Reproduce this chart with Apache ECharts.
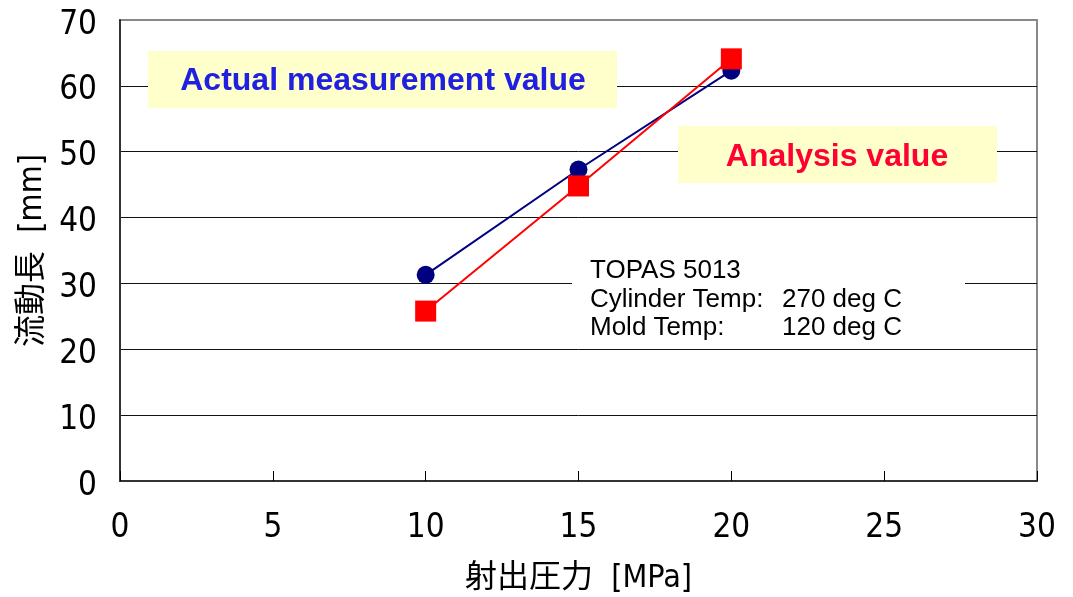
<!DOCTYPE html>
<html>
<head>
<meta charset="utf-8">
<script src="https://cdn.jsdelivr.net/npm/echarts@6/dist/echarts.min.js"></script>
<style>html,body{margin:0;padding:0;background:#fff}#c{width:1073px;height:597px}</style>
</head>
<body>
<div id="c"></div>
<script>
const pressure = [10, 15, 20];
const measured = [31.3, 47.3, 62.3];
const analysis = [25.8, 44.8, 64.1];
const xTicks = [0, 5, 10, 15, 20, 25, 30];
const yTicks = [0, 10, 20, 30, 40, 50, 60, 70];
const xName = '射出圧力  [MPa]';
const yName = '流動長  [mm]';
const labelMeasured = 'Actual measurement value';
const labelAnalysis = 'Analysis value';
const infoLines = [['TOPAS 5013', ''], ['Cylinder Temp:', '270 deg C'], ['Mold Temp:', '120 deg C']];

const narrow = "'Liberation Sans Narrow','DejaVu Sans Condensed','Noto Sans CJK JP',sans-serif";
const chart = echarts.init(document.getElementById('c'), null, {renderer: 'canvas'});

const info = [];
infoLines.forEach((l, i) => {
  info.push({type: 'text', left: 590, top: 258 + i * 28.5, z: 101,
    style: {text: l[0], fontSize: 26, fontFamily: 'Liberation Sans, Arial, sans-serif', fill: '#000'}});
  if (l[1]) info.push({type: 'text', left: 782, top: 258 + i * 28.5, z: 101,
    style: {text: l[1], fontSize: 26, fontFamily: 'Liberation Sans, Arial, sans-serif', fill: '#000'}});
});

chart.setOption({
  animation: false,
  grid: {left: 120, right: 36, top: 20, bottom: 116, show: true, borderColor: '#888', borderWidth: 2, backgroundColor: 'transparent', containLabel: false, outerBoundsMode: 'none'},
  xAxis: {
    type: 'value', min: xTicks[0], max: xTicks[xTicks.length - 1], interval: 5,
    name: xName, nameLocation: 'middle', nameGap: 82,
    nameTextStyle: {fontSize: 32, fontFamily: narrow, color: '#000'},
    axisLine: {show: true, onZero: false, lineStyle: {color: '#333', width: 2}},
    axisTick: {show: true, inside: true, length: 10, lineStyle: {color: '#000', width: 1}},
    axisLabel: {fontSize: 33, fontFamily: narrow, color: '#000', margin: 31},
    splitLine: {show: false}
  },
  yAxis: {
    type: 'value', min: yTicks[0], max: yTicks[yTicks.length - 1], interval: 10,
    name: yName, nameLocation: 'middle', nameGap: 68, nameRotate: 90,
    nameTextStyle: {fontSize: 32, fontFamily: narrow, color: '#000'},
    axisLine: {show: true, lineStyle: {color: '#333', width: 2}},
    axisTick: {show: false},
    axisLabel: {color: '#000', margin: 23, formatter: '{v|{value}}',
      rich: {v: {fontSize: 33, fontFamily: narrow, color: '#000', padding: [10, 0, 0, 0]}}},
    splitLine: {show: true, lineStyle: {color: ['#111','#111','#111','#111','#111','#111','#111','#888'], width: 1}}
  },
  graphic: [
    {type: 'rect', shape: {x: 148, y: 51, width: 469, height: 57}, style: {fill: '#FFFFCC'}, z: 100},
    {type: 'text', x: 383, y: 81, z: 101, style: {text: labelMeasured, fontSize: 32, fontWeight: 'bold', fontFamily: 'Liberation Sans, Arial, sans-serif', fill: '#2020E0', textAlign: 'center', textVerticalAlign: 'middle'}},
    {type: 'rect', shape: {x: 678, y: 126, width: 319, height: 57}, style: {fill: '#FFFFCC'}, z: 100},
    {type: 'text', x: 837, y: 157, z: 101, style: {text: labelAnalysis, fontSize: 32, fontWeight: 'bold', fontFamily: 'Liberation Sans, Arial, sans-serif', fill: '#FF0033', textAlign: 'center', textVerticalAlign: 'middle'}},
    {type: 'rect', shape: {x: 572, y: 250, width: 393, height: 98}, style: {fill: '#FFFFFF'}, z: 100}
  ].concat(info),
  series: [
    {type: 'line', data: pressure.map((x, i) => [x, measured[i]]), symbol: 'circle', symbolSize: 18,
      lineStyle: {color: '#000080', width: 2}, itemStyle: {color: '#000080'}, z: 110},
    {type: 'line', data: pressure.map((x, i) => [x, analysis[i]]), symbol: 'rect', symbolSize: 21,
      lineStyle: {color: '#FF0000', width: 2}, itemStyle: {color: '#FF0000'}, z: 111}
  ]
});
</script>
</body>
</html>
